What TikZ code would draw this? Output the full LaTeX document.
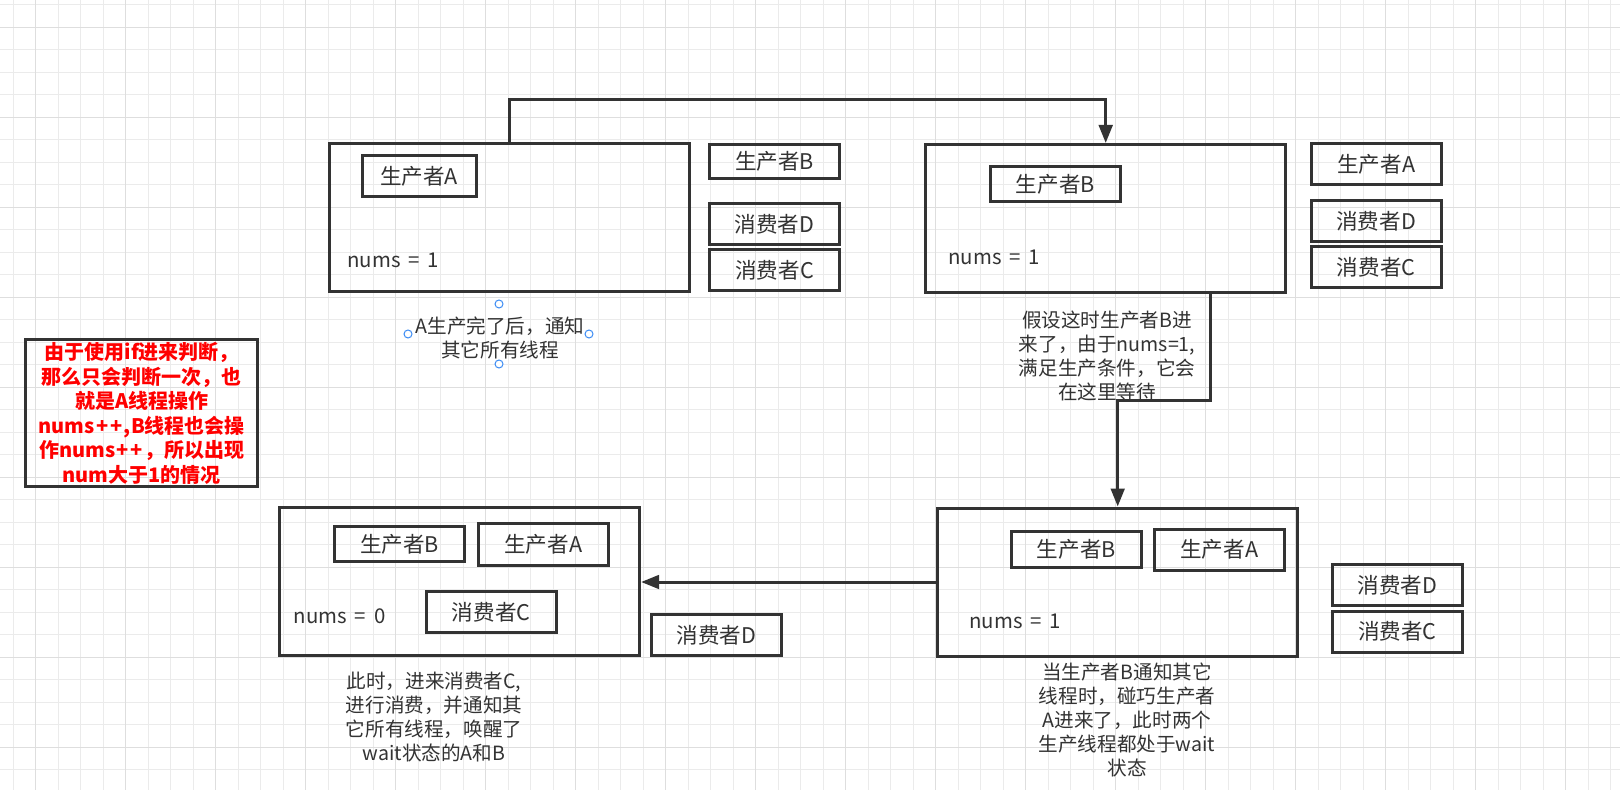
\documentclass[tikz,border=0pt]{standalone}
\usepackage{fontspec}
\setmainfont{Noto Sans CJK SC}
\usetikzlibrary{arrows.meta}
\definecolor{ink}{HTML}{333333}
\definecolor{gridminor}{HTML}{EBEBEB}
\definecolor{gridmajor}{HTML}{DEDEDE}
\definecolor{handle}{HTML}{3C8CF4}
\definecolor{warnred}{HTML}{FF0000}
\newcommand{\numsval}[1]{nums\hspace{1.6pt} = \hspace{1.6pt}#1}
\newcommand{\plusplus}{\kern0.8pt+\kern0.8pt+\kern0.8pt}

\begin{document}
\begin{tikzpicture}[x=0.5pt, y=-0.5pt,
    stage/.style={rectangle, draw=ink, line width=1.5pt, minimum width=180pt, minimum height=74pt},
    worker/.style={rectangle, draw=ink, line width=1.5pt, minimum width=65pt, minimum height=20.5pt, inner sep=0pt, text=ink, font=\fontsize{10.8}{12}\selectfont},
    count/.style={anchor=west, inner sep=0pt, text=ink, font=\fontsize{10.2}{12}\selectfont},
    note/.style={align=center, inner sep=0pt, text=ink, font=\fontsize{9.8}{12}\selectfont},
    warn/.style={rectangle, draw=ink, line width=1.5pt, minimum width=116pt, minimum height=73.5pt, align=center, inner sep=0pt, text=warnred, font=\bfseries\fontsize{10}{12.25}\selectfont},
    flow/.style={draw=ink, line width=1.5pt, -{Triangle[length=9pt,width=6.8pt]}},
    gridline/.style={draw=gridminor, line width=0.5pt},
    gridbold/.style={draw=gridmajor, line width=0.6pt},
    handlemark/.style={draw=handle, fill=white, line width=0.5pt}
  ]
  \useasboundingbox (0,0) rectangle (1620,790);
  \fill[white] (0,0) rectangle (1620,790);

  % Grid
  \foreach \x in {13.3,35.8,...,1620} \draw[gridline] (\x,0) -- (\x,790);
  \foreach \y in {4.8,27.3,...,790} \draw[gridline] (0,\y) -- (1620,\y);
  \foreach \x in {35.8,125.8,...,1620} \draw[gridbold] (\x,0) -- (\x,790);
  \foreach \y in {27.3,117.3,...,790} \draw[gridbold] (0,\y) -- (1620,\y);

  % Nodes
  \node (stageA) at (509,218) [stage] {};
  \node (innerA) at (419,176) [worker, minimum width=57pt] {生产者A};
  \node (numsA) at (347,260) [count] {\numsval{1}};
  \node (waitB1) at (774.5,161.5) [worker, minimum height=17pt] {生产者B};
  \node (waitD1) at (774.5,224) [worker] {消费者D};
  \node (waitC1) at (774.5,270.5) [worker] {消费者C};
  \node (noteA) at (500,338) [note] {A生产完了后，通知\\其它所有线程};

  \node (stageB) at (1105.7,218.5) [stage] {};
  \node (innerB) at (1055.4,184.2) [worker, minimum height=17.5pt] {生产者B};
  \node (numsB) at (948,257.7) [count] {\numsval{1}};
  \node (waitA2) at (1376.2,164.3) [worker] {生产者A};
  \node (waitD2) at (1376.2,221) [worker] {消费者D};
  \node (waitC2) at (1376.2,267.2) [worker] {消费者C};
  \node (noteB) at (1107,355.8) [note] {假设这时生产者B进\\来了，由于nums=1,\\满足生产条件，它会\\在这里等待};

  \node (stageD) at (1117.7,582) [stage] {};
  \node (innerB4) at (1076.4,549.5) [worker, minimum height=18pt] {生产者B};
  \node (innerA4) at (1219.3,549.5) [worker] {生产者A};
  \node (numsD) at (969,621.7) [count] {\numsval{1}};
  \node (waitD4) at (1397.3,585.4) [worker] {消费者D};
  \node (waitC4) at (1397.3,631.5) [worker] {消费者C};
  \node (noteD) at (1127,720) [note] {当生产者B通知其它\\线程时，碰巧生产者\\A进来了，此时两个\\生产线程都处于wait\\状态};

  \node (stageC) at (459.6,581) [stage] {};
  \node (innerB3) at (399.5,544.2) [worker, minimum height=17.5pt] {生产者B};
  \node (innerA3) at (543.3,544.2) [worker, minimum height=21pt] {生产者A};
  \node (innerC3) at (491.2,612.2) [worker] {消费者C};
  \node (numsC) at (293.5,616.7) [count] {\numsval{0}};
  \node (waitD3) at (716.3,635.4) [worker] {消费者D};
  \node (noteC) at (434,717.5) [note] {此时，进来消费者C,\\进行消费，并通知其\\它所有线程，唤醒了\\wait状态的A和B};

  \node (reason) at (141.8,413.4) [warn] {由于使用if进来判断，\\那么只会判断一次，也\\就是A线程操作\\nums\plusplus,B线程也会操\\作nums\plusplus，所以出现\\num大于1的情况};

  % Selection handles
  \foreach \hx/\hy in {499/304, 408/334, 589/334, 499/364}
    \draw[handlemark] (\hx,\hy) circle (2pt);

  % Edges
  \coordinate (bendA) at (509,100);
  \coordinate (bendB) at (1210.7,400.7);
  \draw[flow] (stageA.north) -- (bendA) -| (stageB.north);
  \draw[flow] (stageB.south -| bendB) -- (bendB) -| (stageD.north);
  \draw[flow] (stageD.west) -- (stageD.west -| stageC.east);
\end{tikzpicture}
\end{document}
